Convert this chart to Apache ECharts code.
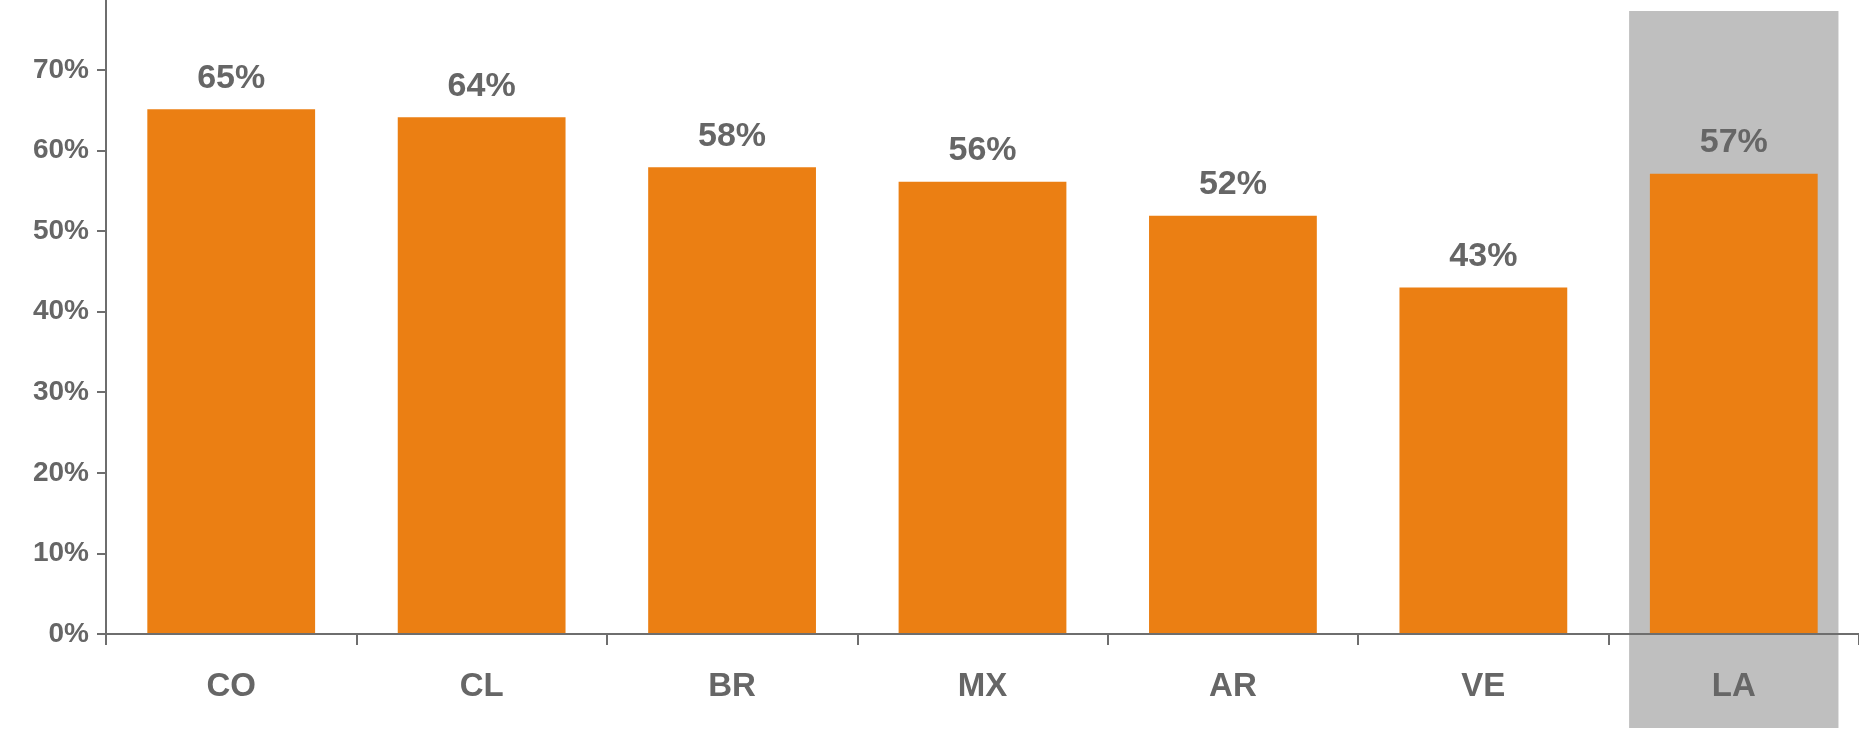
<!DOCTYPE html>
<html>
<head>
<meta charset="utf-8">
<script src="https://cdn.jsdelivr.net/npm/echarts@6/dist/echarts.min.js"></script>
<style>
  html, body { margin: 0; padding: 0; background: #fff; }
  #chart { width: 1859px; height: 729px; }
</style>
</head>
<body>
<div id="chart"></div>
<script>
// countries and share values (%)
var countries = ['CO', 'CL', 'BR', 'MX', 'AR', 'VE', 'LA'];
var shares = [65.1, 64.1, 57.9, 56.1, 51.9, 43.0, 57.1];
// highlight band behind the regional average
var highlight = [null, null, null, null, null, null, 1];
var yTicks = [0, 10, 20, 30, 40, 50, 60, 70];

var grey = '#666666';
var axisGrey = '#6e6e6e';
var font = 'Liberation Sans, Arial, sans-serif';

var option = {
  animation: false,
  grid: [
    { left: 106, right: -5, top: 0, bottom: 95 },
    { left: 106, right: -5, top: 11, bottom: 1 }
  ],
  xAxis: [
    {
      type: 'category',
      data: countries,
      gridIndex: 0,
      z: 5,
      axisLine: { lineStyle: { color: axisGrey, width: 2 } },
      axisTick: { show: true, alignWithLabel: false, inside: false, length: 11, lineStyle: { color: axisGrey, width: 2 } },
      axisLabel: { color: grey, fontSize: 33, fontWeight: 'bold', fontFamily: font, margin: 36 }
    },
    {
      type: 'category',
      data: countries,
      gridIndex: 1,
      show: false
    }
  ],
  yAxis: [
    {
      type: 'value',
      gridIndex: 0,
      min: 0,
      max: 78.66,
      z: 5,
      splitLine: { show: false },
      axisLine: { show: true, lineStyle: { color: axisGrey, width: 2 } },
      axisTick: { show: true, length: 9, customValues: yTicks, lineStyle: { color: axisGrey, width: 2 } },
      axisLabel: {
        customValues: yTicks,
        formatter: '{value}%',
        color: grey, fontSize: 28, fontWeight: 'bold', fontFamily: font, margin: 17,
        padding: [4, 0, 0, 0]
      }
    },
    {
      type: 'value',
      gridIndex: 1,
      min: 0,
      max: 1,
      show: false
    }
  ],
  series: [
    {
      type: 'bar',
      xAxisIndex: 1,
      yAxisIndex: 1,
      data: highlight,
      barWidth: '83.6%',
      z: 0,
      silent: true,
      itemStyle: { color: '#bfbfbf' }
    },
    {
      type: 'bar',
      xAxisIndex: 0,
      yAxisIndex: 0,
      data: shares,
      barWidth: '67%',
      z: 2,
      itemStyle: { color: '#eb7f13' },
      label: {
        show: true,
        position: 'top',
        distance: 14,
        color: grey,
        fontSize: 34,
        fontWeight: 'bold',
        fontFamily: font,
        formatter: function (p) { return Math.round(p.value) + '%'; }
      }
    }
  ]
};

echarts.init(document.getElementById('chart')).setOption(option);
</script>
</body>
</html>
